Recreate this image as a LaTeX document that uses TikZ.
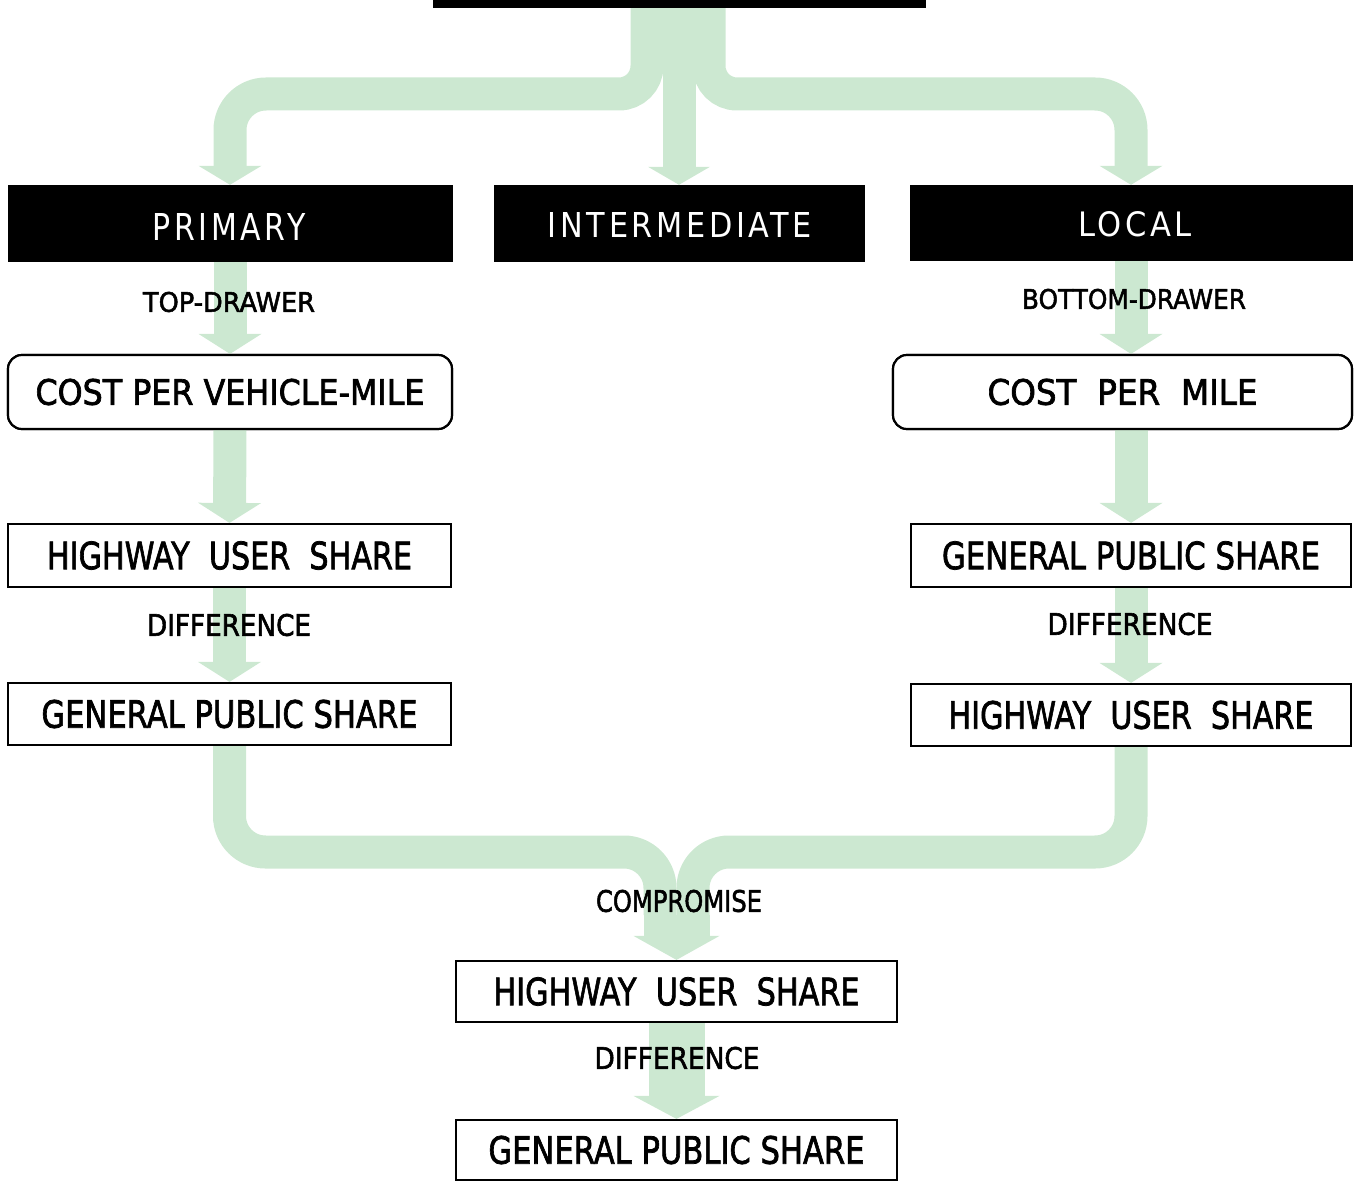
\documentclass[tikz,border=0pt]{standalone}
\usepackage{fontspec}
\setmainfont{DejaVu Sans}
\newfontfamily\boxfont{DejaVu Sans}[FakeBold=2]
\newfontfamily\hdrfont{DejaVu Sans}[LetterSpace=12]
\usepackage{graphicx}
\usetikzlibrary{arrows.meta}
\definecolor{flowgreen}{RGB}{204,232,209}
\newcommand{\fittext}[3]{\resizebox{#1pt}{#2pt}{#3}}
\begin{document}
\begin{tikzpicture}[x=1pt,y=-1pt,
  flow/.style={draw=flowgreen, line width=33pt},
  colhead/.style={-{Triangle[width=63pt,length=20pt,line width=0pt]}},
  blackbox/.style={fill=black, draw=black, inner sep=0pt},
  hdr/.style={inner sep=0pt, text=white, font=\hdrfont},
  outbox/.style={fill=white, draw=black, line width=2.2pt, inner sep=0pt, font=\boxfont},
  lbl/.style={inner sep=0pt, text=black, font=\boxfont}]
\useasboundingbox (0,0) rectangle (1355,1182);
\clip (0,0) rectangle (1355,1182);

% boxes (positions)
\node[blackbox, minimum width=492pt, minimum height=67pt] (top) at (679,-26.5) {};
\path (0,94) coordinate (yTop) (0,852) coordinate (yBot) (0,915) coordinate (yMerge);
\path (660,915) coordinate (mL) (693,915) coordinate (mR);

\node[blackbox, minimum width=444pt, minimum height=76pt] (primary) at (230,223) {};
\node[blackbox, minimum width=370pt, minimum height=76pt] (inter) at (679,223) {};
\node[blackbox, minimum width=442pt, minimum height=75pt] (local) at (1131,222.5) {};
\node[outbox, rounded corners=14pt, minimum width=444pt, minimum height=74pt] (cpvm) at (230,392) {};
\node[outbox, rounded corners=14pt, minimum width=459pt, minimum height=74pt] (cpm) at (1122.5,392) {};
\node[outbox, minimum width=443pt, minimum height=63pt] (hus1) at (229.5,555.5) {};
\node[outbox, minimum width=443pt, minimum height=62pt] (gps1) at (229.5,714) {};
\node[outbox, minimum width=440pt, minimum height=63pt] (gps2) at (1131,555.5) {};
\node[outbox, minimum width=440pt, minimum height=62pt] (hus2) at (1131,715) {};
\node[outbox, minimum width=441pt, minimum height=61pt] (hus3) at (676.5,991.5) {};
\node[outbox, minimum width=441pt, minimum height=60pt] (gps3) at (676.5,1150) {};

% green flow connectors
\draw[flow, -{Triangle[width=63pt,length=19pt,line width=0pt]}]
  ([xshift=-32pt]top.south) [rounded corners=28pt] -- ([xshift=-32pt]top.south |- yTop)
  [rounded corners=36pt] -- (primary.north |- yTop) -- (primary.north);
\draw[flow, -{Triangle[width=62pt,length=18pt,line width=0pt]}] (top.south) -- (inter.north);
\draw[flow, -{Triangle[width=63pt,length=19pt,line width=0pt]}]
  ([xshift=30pt]top.south) [rounded corners=28pt] -- ([xshift=30pt]top.south |- yTop)
  [rounded corners=36pt] -- (local.north |- yTop) -- (local.north);

\draw[flow, colhead] (primary.south) -- (cpvm.north);
\draw[flow, colhead] (cpvm.south) -- (hus1.north);
\draw[flow, colhead] (hus1.south) -- (gps1.north);
\draw[flow, colhead] (local.south) -- (cpm.north -| local.south);
\draw[flow, colhead] (cpm.south -| gps2.north) -- (gps2.north);
\draw[flow, colhead] (gps2.south) -- (hus2.north);

\draw[flow, rounded corners=36pt] (gps1.south) -- (gps1.south |- yBot) -- (mL |- yBot) -- (mL);
\draw[flow, rounded corners=36pt] (hus2.south) -- (hus2.south |- yBot) -- (mR |- yBot) -- (mR);
\draw[flow, line width=66pt, -{Triangle[width=86pt,length=24pt,line width=0pt]}] (hus3.north |- yMerge) -- (hus3.north);
\draw[flow, line width=56pt, -{Triangle[width=86pt,length=23pt,line width=0pt]}] (hus3.south) -- (gps3.north);

% redraw boxes on top of the flow, with their texts
\node[blackbox, minimum width=492pt, minimum height=67pt] at (top) {};
\node[blackbox, minimum width=444pt, minimum height=76pt] at (primary) {};
\node[blackbox, minimum width=370pt, minimum height=76pt] at (inter) {};
\node[blackbox, minimum width=442pt, minimum height=75pt] at (local) {};
\node[hdr] (primarytext) at (229,226.5) {\fittext{153}{27}{PRIMARY}};
\node[hdr] (intertext) at (680,225) {\fittext{264}{25}{INTERMEDIATE}};
\node[hdr] (localtext) at (1135,224) {\fittext{114}{25}{LOCAL}};
\node[outbox, rounded corners=14pt, minimum width=444pt, minimum height=74pt] at (cpvm) {\fittext{389}{26}{COST PER VEHICLE-MILE}};
\node[outbox, rounded corners=14pt, minimum width=459pt, minimum height=74pt] at (cpm) {\fittext{270}{26}{COST\ \ PER\ \ MILE}};
\node[outbox, minimum width=443pt, minimum height=63pt] at (hus1) {\fittext{365}{28}{HIGHWAY\ \ USER\ \ SHARE}};
\node[outbox, minimum width=443pt, minimum height=62pt] at (gps1) {\fittext{376}{28}{GENERAL PUBLIC SHARE}};
\node[outbox, minimum width=440pt, minimum height=63pt] at (gps2) {\fittext{378}{28}{GENERAL PUBLIC SHARE}};
\node[outbox, minimum width=440pt, minimum height=62pt] at (hus2) {\fittext{365}{28}{HIGHWAY\ \ USER\ \ SHARE}};
\node[outbox, minimum width=441pt, minimum height=61pt] at (hus3) {\fittext{366}{28}{HIGHWAY\ \ USER\ \ SHARE}};
\node[outbox, minimum width=441pt, minimum height=60pt] at (gps3) {\fittext{376}{28}{GENERAL PUBLIC SHARE}};

% labels on the flow
\node[lbl] (topdrawer) at (229,302) {\fittext{172}{20}{TOP-DRAWER}};
\node[lbl] (bottomdrawer) at (1134,299) {\fittext{224}{20}{BOTTOM-DRAWER}};
\node[lbl] (diff1) at (229,625) {\fittext{164}{22}{DIFFERENCE}};
\node[lbl] (diff2) at (1130,624) {\fittext{165}{22}{DIFFERENCE}};
\node[lbl] (compromise) at (679,901) {\fittext{166}{22}{COMPROMISE}};
\node[lbl] (diff3) at (677,1058) {\fittext{165}{22}{DIFFERENCE}};
\end{tikzpicture}
\end{document}
